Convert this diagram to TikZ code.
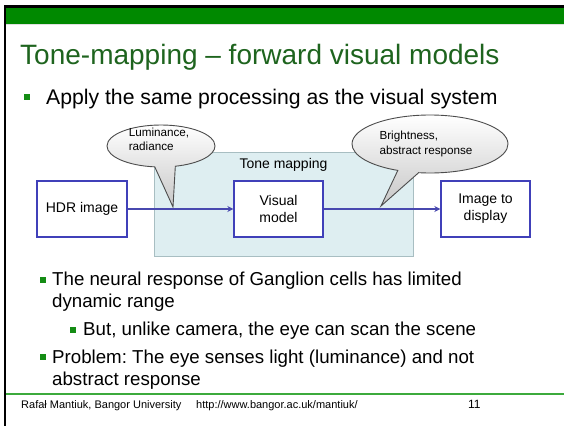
\documentclass[tikz,border=0pt]{standalone}
\usepackage{fontspec}
\setmainfont{Liberation Sans}
\frenchspacing
\usetikzlibrary{shapes.callouts,arrows.meta}
\definecolor{barGreen}{RGB}{0,137,0}
\definecolor{titleGreen}{RGB}{30,100,30}
\definecolor{bulletGreen}{RGB}{20,140,20}
\definecolor{boxBlue}{RGB}{64,64,185}
\definecolor{arrowBlue}{RGB}{72,72,175}
\definecolor{tmFill}{RGB}{222,238,241}
\definecolor{tmEdge}{RGB}{168,190,194}
\definecolor{ruleGreen}{RGB}{60,170,60}
\begin{document}
\begin{tikzpicture}[x=1pt,y=-1pt,
  stagebox/.style={draw=boxBlue,line width=1.4pt,fill=white,minimum width=89pt,
    minimum height=56pt,inner sep=0pt,align=center,font=\fontsize{14}{17}\selectfont},
  flow/.style={draw=arrowBlue,line width=1.1pt,-{Stealth[length=6pt,width=6pt]}},
  bubble/.style={ellipse callout,draw=black!70,line width=0.9pt,top color=white,
    bottom color=black!22,inner sep=0pt},
  bubbletext/.style={align=left,inner sep=0pt,font=\fontsize{11.7}{14.5}\selectfont},
  bul/.style={fill=bulletGreen,minimum size=5.5pt,inner sep=0pt},
  body/.style={anchor=base west,inner sep=0pt,align=left,font=\fontsize{18.7}{22}\selectfont}
]
\useasboundingbox (0,0) rectangle (564,426);
\fill[white] (0,0) rectangle (564,426);

% slide frame and header bar
\fill[barGreen] (6,7.5) rectangle (564,24);
\fill[black!12] (6,24) rectangle (564,25);
\fill[black] (3.5,5) rectangle (564,7.5);
\fill[black] (3.5,5) rectangle (6,426);

% title and first bullet
\node[anchor=base west,inner sep=0pt,text=titleGreen,font=\fontsize{28}{32}\selectfont]
  (title) at (20,64) {Tone-mapping – forward visual models};
\node[bul] (b0) at (27,97) {};
\node[anchor=base west,inner sep=0pt,font=\fontsize{21.2}{25}\selectfont]
  (t0) at (46,104) {Apply the same processing as the visual system};

% tone mapping stage
\node[draw=tmEdge,fill=tmFill,line width=1pt,minimum width=259pt,minimum height=104pt,
  inner sep=0pt] (tm) at (283.5,204) {};
\node[font=\fontsize{14}{17}\selectfont,inner sep=0pt] (tmlabel) at (283.5,165) {Tone mapping};

% speech bubbles
\coordinate (p1) at (173,207);
\coordinate (p2) at (381,206);
\node[bubble,minimum width=108pt,minimum height=42pt,callout pointer arc=22,
  callout absolute pointer={(p1)}] (lum) at (161,146) {};
\node[bubbletext] (lumtext) at (159,139.5) {Luminance,\\radiance};
\node[bubble,minimum width=156pt,minimum height=58pt,callout pointer arc=16,
  callout absolute pointer={(p2)}] (bri) at (430,144) {};
\node[bubbletext] (britext) at (426,144) {Brightness,\\abstract response};

% processing chain
\node[stagebox,minimum width=90pt] (hdr) at (82,209) {HDR image};
\node[stagebox] (vis) at (278.5,209) {Visual\\model};
\node[stagebox] (disp) at (485.5,209) {Image to\\display};
\draw[flow] (hdr) -- (vis);
\draw[flow] (vis) -- (disp);

% remaining bullets (base anchor sits on the last line)
\node[bul] (b1) at (43,280) {};
\node[body] (t1) at (52,307.5) {The neural response of Ganglion cells has limited\\dynamic range};
\node[bul] (b2) at (73,330) {};
\node[body] (t2) at (83,335.5) {But, unlike camera, the eye can scan the scene};
\node[bul] (b3) at (43,357) {};
\node[body] (t3) at (52,385) {Problem: The eye senses light (luminance) and not\\abstract response};

% footer
\draw[ruleGreen,line width=1.8pt] (6,394) -- (564,394);
\node[anchor=base west,inner sep=0pt,font=\fontsize{11}{14}\selectfont]
  (author) at (21,408) {Rafał Mantiuk, Bangor University};
\node[anchor=base west,inner sep=0pt,font=\fontsize{11}{14}\selectfont]
  (url) at (196,408) {http://www.bangor.ac.uk/mantiuk/};
\node[anchor=base west,inner sep=0pt,font=\fontsize{12}{14}\selectfont]
  (page) at (468,408) {11};
\end{tikzpicture}
\end{document}
